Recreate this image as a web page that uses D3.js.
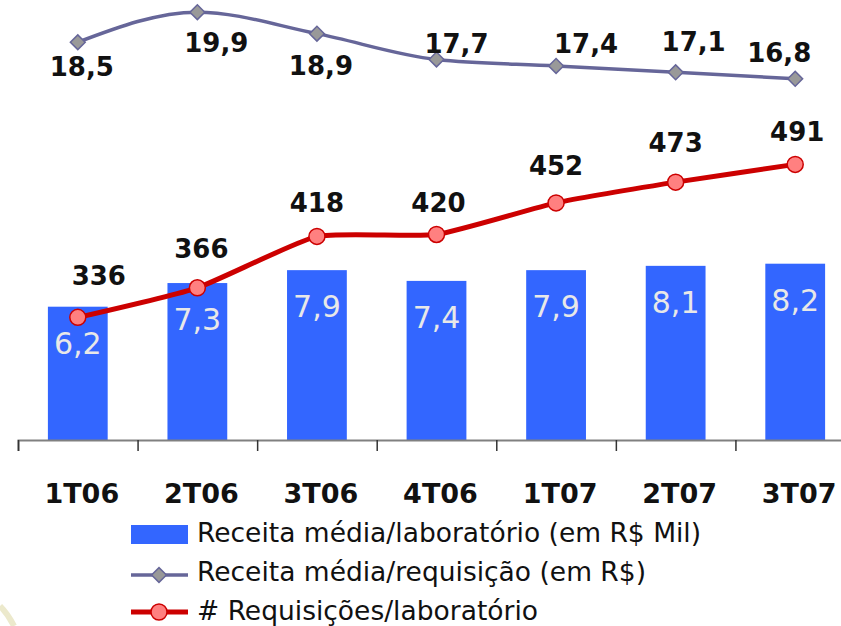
<!DOCTYPE html>
<html>
<head>
<meta charset="utf-8">
<script src="https://cdn.jsdelivr.net/npm/d3@7"></script>
<style>
  body { margin: 0; background: #fff; }
  svg { display: block; font-family: "DejaVu Sans", Verdana, sans-serif; }
</style>
</head>
<body>
<svg width="841" height="626"></svg>
<script>
// chart values
var quarters = ["1T06", "2T06", "3T06", "4T06", "1T07", "2T07", "3T07"];
var receitaLab = [6.2, 7.3, 7.9, 7.4, 7.9, 8.1, 8.2];        // bars, R$ Mil
var receitaReq = [18.5, 19.9, 18.9, 17.7, 17.4, 17.1, 16.8]; // gray line, R$
var reqLab = [336, 366, 418, 420, 452, 473, 491];            // red line
var legendLabels = [
  "Receita média/laboratório (em R$ Mil)",
  "Receita média/requisição (em R$)",
  "# Requisições/laboratório"
];

// hand placed label nudges, [dx, dy] from each point
var grayNudge = [[4, 34], [19, 40], [4, 41], [20, -6], [30, -13], [18, -21], [-16, -17]];
var redNudge = [[21, -32], [4, -30], [0, -24], [2, -22], [0, -28], [0, -30], [2, -23]];

var fmt = function(v) { return d3.format(".1f")(v).replace(".", ","); };

var svg = d3.select("svg");

var x = d3.scaleBand()
    .domain(quarters)
    .range([18, 855])
    .paddingInner(0.5)
    .paddingOuter(0.25);
var xc = function(d) { return x(d) + x.bandwidth() / 2; };

var y = d3.scaleLinear().domain([0, 20]).range([440, 10]);
var y2 = d3.scaleLinear().domain([0, 500]).range([649, 155.5]);

// faint background swoosh in the corner
svg.append("path")
    .attr("d", "M0,606 Q8,614 14,626")
    .attr("fill", "none")
    .attr("stroke", "#ece9cc")
    .attr("stroke-width", 6);

// bars
svg.append("g").selectAll("rect")
  .data(receitaLab)
  .enter().append("rect")
    .attr("x", function(d, i) { return x(quarters[i]); })
    .attr("y", function(d) { return y(d); })
    .attr("width", x.bandwidth())
    .attr("height", function(d) { return y(0) - y(d); })
    .attr("fill", "#3366ff");

svg.append("g").selectAll("text")
  .data(receitaLab)
  .enter().append("text")
    .attr("x", function(d, i) { return xc(quarters[i]); })
    .attr("y", function(d) { return y(d) + 47; })
    .attr("text-anchor", "middle")
    .attr("font-size", 30)
    .attr("fill", "#e8e8e8")
    .text(fmt);

// x axis
var axisX = d3.scaleLinear().domain([0, quarters.length]).range([18, 855]);
var axis = svg.append("g").attr("transform", "translate(0,440)")
  .call(d3.axisBottom(axisX).ticks(quarters.length).tickSize(11).tickFormat(""));
axis.select(".domain").attr("stroke", "#808080").attr("stroke-width", 2);
axis.selectAll(".tick line").attr("stroke", "#333").attr("stroke-width", 1.5);

svg.append("g").selectAll("text")
  .data(quarters)
  .enter().append("text")
    .attr("x", function(d) { return xc(d) + 4; })
    .attr("y", 503)
    .attr("text-anchor", "middle")
    .attr("font-size", 27)
    .attr("font-weight", "bold")
    .attr("fill", "#111")
    .text(function(d) { return d; });

// gray line
var grayLine = d3.line()
    .x(function(d, i) { return xc(quarters[i]); })
    .y(function(d) { return y(d); })
    .curve(d3.curveMonotoneX);

svg.append("path")
    .datum(receitaReq)
    .attr("d", grayLine)
    .attr("fill", "none")
    .attr("stroke", "#666699")
    .attr("stroke-width", 3.5);

var diamond = d3.symbol().type(d3.symbolSquare).size(110);
svg.append("g").selectAll("path")
  .data(receitaReq)
  .enter().append("path")
    .attr("d", diamond)
    .attr("transform", function(d, i) {
      return "translate(" + xc(quarters[i]) + "," + y(d) + ") rotate(45)";
    })
    .attr("fill", "#999999")
    .attr("stroke", "#666699")
    .attr("stroke-width", 1.5);

svg.append("g").selectAll("text")
  .data(receitaReq)
  .enter().append("text")
    .attr("x", function(d, i) { return xc(quarters[i]) + grayNudge[i][0]; })
    .attr("y", function(d, i) { return y(d) + grayNudge[i][1]; })
    .attr("text-anchor", "middle")
    .attr("font-size", 26)
    .attr("font-weight", "bold")
    .attr("fill", "#111")
    .text(fmt);

// red line
var redLine = d3.line()
    .x(function(d, i) { return xc(quarters[i]); })
    .y(function(d) { return y2(d); })
    .curve(d3.curveCardinal.tension(0.5));

svg.append("path")
    .datum(reqLab)
    .attr("d", redLine)
    .attr("fill", "none")
    .attr("stroke", "#cc0000")
    .attr("stroke-width", 5);

svg.append("g").selectAll("circle")
  .data(reqLab)
  .enter().append("circle")
    .attr("cx", function(d, i) { return xc(quarters[i]); })
    .attr("cy", function(d) { return y2(d); })
    .attr("r", 8)
    .attr("fill", "#ff8080")
    .attr("stroke", "#cc0000")
    .attr("stroke-width", 1.5);

svg.append("g").selectAll("text")
  .data(reqLab)
  .enter().append("text")
    .attr("x", function(d, i) { return xc(quarters[i]) + redNudge[i][0]; })
    .attr("y", function(d, i) { return y2(d) + redNudge[i][1]; })
    .attr("text-anchor", "middle")
    .attr("font-size", 26)
    .attr("font-weight", "bold")
    .attr("fill", "#111")
    .text(function(d) { return d; });

// legend
var legend = svg.append("g");
var rowY = [534, 573, 612];

legend.append("rect")
    .attr("x", 131).attr("y", 525)
    .attr("width", 57).attr("height", 19)
    .attr("fill", "#3366ff");

legend.append("line")
    .attr("x1", 131).attr("x2", 188)
    .attr("y1", rowY[1] + 2).attr("y2", rowY[1] + 2)
    .attr("stroke", "#666699").attr("stroke-width", 3.5);
legend.append("path")
    .attr("d", diamond)
    .attr("transform", "translate(159," + (rowY[1] + 2) + ") rotate(45)")
    .attr("fill", "#999999").attr("stroke", "#666699").attr("stroke-width", 1.5);

legend.append("line")
    .attr("x1", 131).attr("x2", 188)
    .attr("y1", rowY[2]).attr("y2", rowY[2])
    .attr("stroke", "#cc0000").attr("stroke-width", 5);
legend.append("circle")
    .attr("cx", 159).attr("cy", rowY[2]).attr("r", 8)
    .attr("fill", "#ff8080").attr("stroke", "#cc0000").attr("stroke-width", 1.5);

legend.selectAll("text.lg")
  .data(legendLabels)
  .enter().append("text")
    .attr("class", "lg")
    .attr("x", 197)
    .attr("y", function(d, i) { return [542, 581, 620][i]; })
    .attr("font-size", 26.5)
    .attr("fill", "#111")
    .text(function(d) { return d; });
</script>
</body>
</html>
